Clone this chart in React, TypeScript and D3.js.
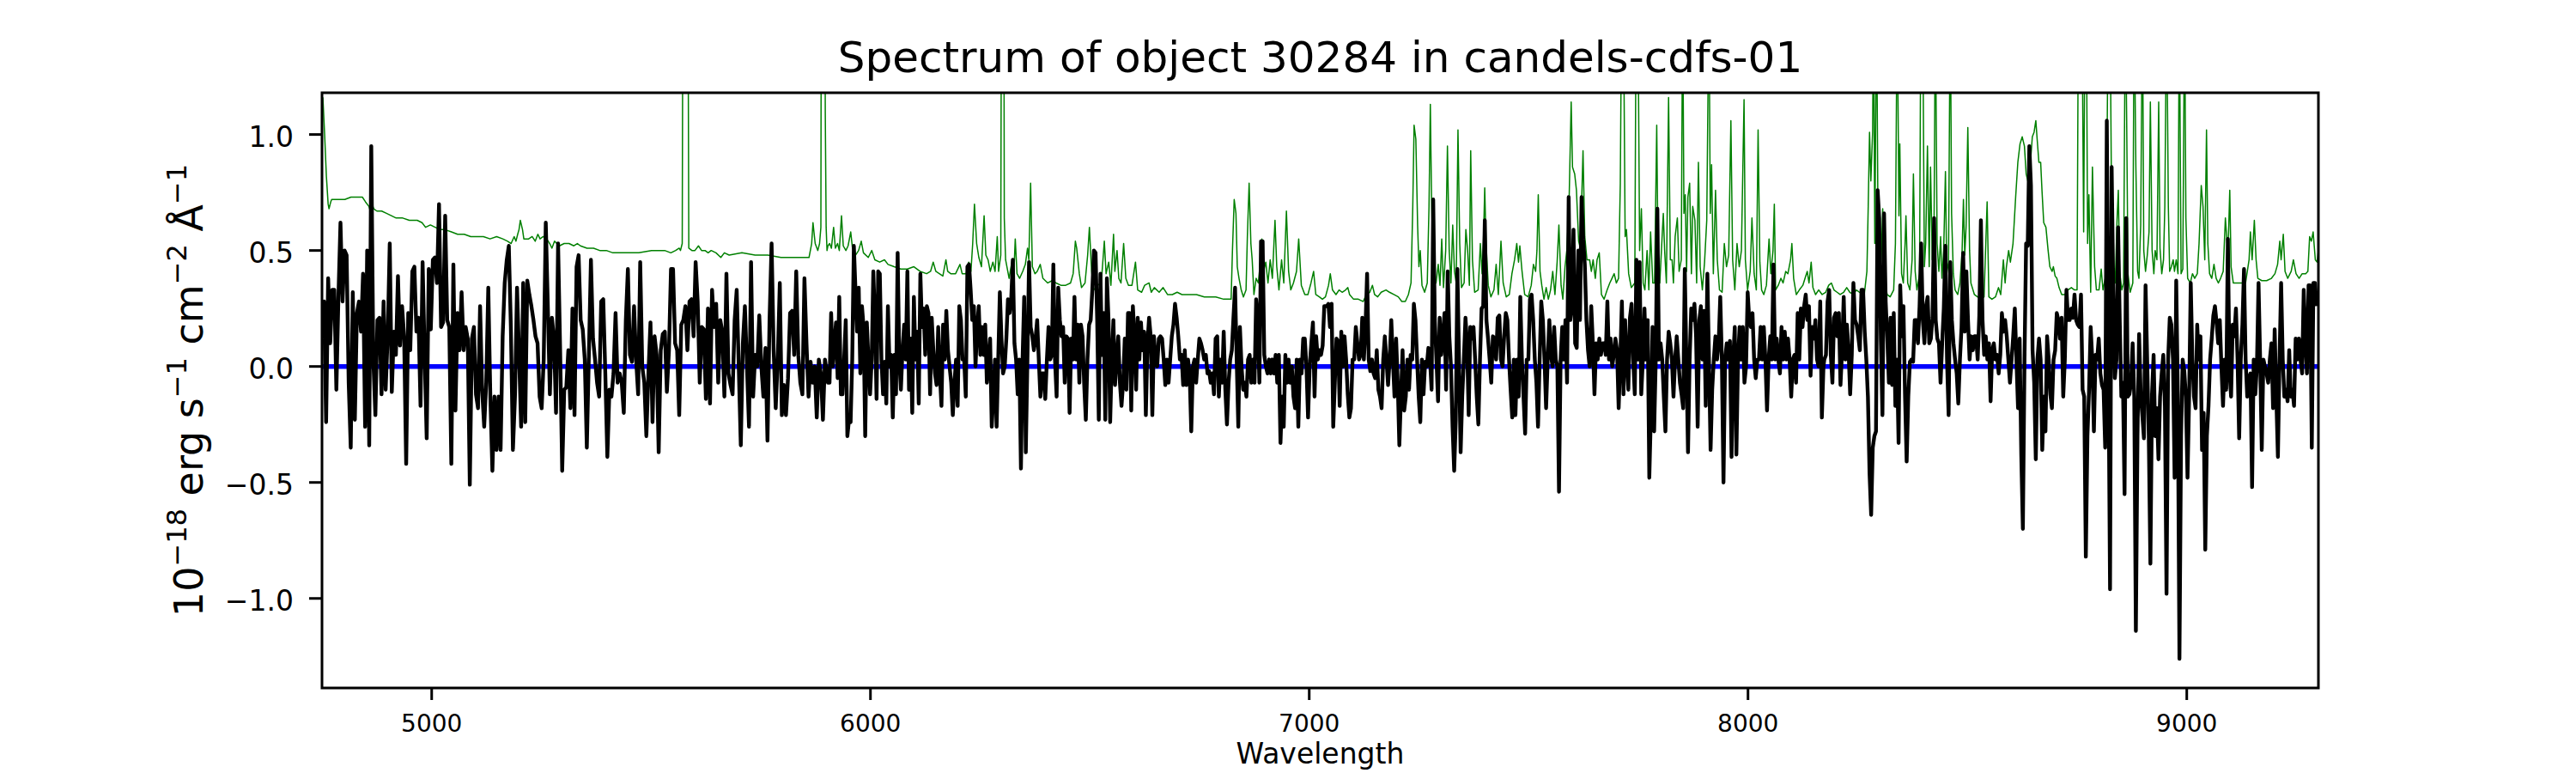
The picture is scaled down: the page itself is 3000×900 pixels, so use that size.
import * as d3 from 'd3'

// observed flux (black), read in four stretches; values are evenly spaced inside each stretch
const fluxA = [
  0.12, 0.28, -0.24, 0.38, 0.10, 0.33, 0.33, -0.10, 0.30, 0.62,
  0.28, 0.50, 0.48, -0.07, -0.35, 0.32, -0.23, 0.23, 0.28, 0.15,
  0.40, -0.26, 0.50, -0.34, 0.95, 0.03, -0.21, 0.20, 0.21, -0.12,
  0.28, -0.10, 0.13, 0.53, -0.11, 0.15, 0.05, 0.39, 0.09, 0.26,
  0.13, -0.42, 0.23, 0.07, 0.41, 0.43, 0.15, 0.21, -0.17, 0.45,
  0.05, -0.31, 0.42, 0.16, 0.46, 0.47, 0.36, 0.70, 0.17, 0.19,
  0.65, 0.20, 0.17, -0.42, 0.44, -0.19, 0.23, 0.07, 0.32, 0.07,
  0.17, 0.12, -0.51, 0.12, 0.17, -0.12, -0.18, 0.26, -0.10, -0.26,
  -0.07, 0.34, -0.13, -0.45, -0.13, -0.36, -0.13, -0.36, 0.13, 0.36,
  0.46, 0.52, 0.17, -0.36, -0.13, 0.34, 0.05, -0.26, 0.36, -0.24,
  0.37, 0.31, 0.26, 0.20, 0.13, 0.10, -0.13, -0.18, 0.03, 0.62,
  0.26, -0.12, 0.21, 0.12, -0.20, 0.53, 0.07, -0.45, -0.10, -0.09,
  0.07, -0.18, 0.25, -0.21, 0.43, 0.48, 0.20, 0.16, 0.03, -0.35,
  0.05, 0.46, 0.12, 0.03, -0.07, -0.13, 0.28, 0.29, -0.03, -0.39,
  -0.10, -0.13, -0.03, 0.23, -0.07, -0.03, -0.07, -0.20, 0.20, 0.42,
  0.05, 0.02, 0.26, 0.03, -0.12, 0.45, 0.00, -0.07, -0.30, -0.03,
  0.19, -0.24, 0.13, 0.05, -0.37, 0.07, 0.14, 0.15, -0.11, 0.07,
  0.42, 0.42, 0.10, 0.07, -0.21, 0.18, 0.20, 0.26, 0.07, 0.28,
  0.29, 0.13, 0.45, 0.28, -0.07, 0.17, 0.16, -0.14, 0.25, -0.16,
  0.33, 0.17, 0.27, -0.07, 0.20, 0.15, -0.13, 0.40, -0.03, -0.08,
  -0.12, 0.20, 0.33, 0.00, -0.34, 0.10, 0.26, 0.00, -0.26, 0.45,
  -0.13, 0.05, 0.00, 0.22, 0.00, -0.13, 0.08, -0.32, 0.20, 0.53,
  0.07, -0.18, 0.03, 0.36, -0.21, -0.08, -0.21, -0.05, 0.23, 0.24,
  0.05, 0.41, 0.05, -0.07, -0.12, 0.38, 0.10, -0.13, 0.02, -0.07,
  0.00, -0.22, 0.03, -0.03, -0.23, 0.03, -0.03,
]

const fluxB = [
  -0.07, -0.07, 0.23, 0.00, 0.10, 0.19, -0.05, 0.30, -0.12, -0.12,
  0.03, 0.20, -0.30, -0.23, -0.24, 0.03, 0.52, 0.33, 0.15, 0.34,
  -0.03, 0.26, 0.17, -0.30, 0.19, 0.03, -0.12, 0.03, 0.41, 0.20,
  -0.14, 0.41, 0.40, 0.03, -0.12, 0.02, -0.16, 0.26, 0.00, 0.05,
  -0.22, 0.05, -0.12, 0.49, 0.03, -0.10, 0.07, 0.18, 0.03, 0.41,
  -0.10, 0.12, -0.20, 0.30, 0.03, 0.15, -0.16, 0.40, 0.17, 0.25,
  0.05, 0.26, 0.23, -0.12, 0.21, 0.07, -0.03, -0.08, 0.17, -0.03,
  -0.17, 0.18, 0.03, 0.24, 0.07, 0.00, -0.07, -0.21, -0.07, 0.03,
  -0.17, 0.26, 0.20, 0.03, 0.03, -0.13, 0.43, 0.44, 0.33, 0.20,
  0.26, 0.00, 0.17, 0.26, 0.05, 0.17, 0.05, 0.18, -0.07, 0.03,
  0.12, -0.26, -0.13, 0.03, -0.26, 0.03, 0.32, 0.12, -0.03, 0.00,
  0.12, 0.29, 0.23, 0.29, 0.46, 0.10, 0.03, -0.12, 0.03, -0.44,
  0.03, 0.30, -0.37, 0.03, 0.45, 0.17, 0.13, 0.07, 0.12, 0.20,
  0.03, -0.13, -0.03, -0.03, -0.14, 0.03, 0.17, 0.03, 0.05, 0.44,
  0.03, -0.13, 0.34, 0.20, 0.13, 0.17, -0.07, 0.13, 0.12, -0.20,
  0.12, 0.03, 0.30, 0.03, 0.18, -0.07, 0.18, 0.13, -0.08, -0.23,
  0.03, 0.18, 0.20, 0.33, 0.50, 0.49, 0.20, -0.23, 0.40, 0.05,
  0.23, -0.23, 0.38, 0.20, -0.24, 0.03, 0.20, -0.08, 0.03, 0.13,
  -0.07, -0.17, -0.07, 0.12, -0.10, 0.23, 0.23, -0.19, 0.26, 0.13,
  -0.10, 0.21, 0.03, 0.19, 0.07, 0.15, -0.21, 0.10, 0.21, 0.13,
  -0.21, 0.13, 0.03, 0.00, 0.12, 0.13, 0.12, 0.03, -0.08, 0.03,
  -0.07, 0.03, 0.13, 0.18, 0.27, 0.21, 0.13, 0.03, 0.05, -0.08,
  0.07, -0.08, 0.03, -0.03, -0.28, 0.00, 0.03, -0.07, 0.03, 0.12,
  0.10, 0.07, 0.03, 0.05, -0.03, -0.02, -0.07, -0.03, -0.12, 0.12,
  0.13, -0.13, 0.03, -0.07, 0.15, -0.10, -0.25, -0.07, 0.03, 0.07,
  0.21, 0.34, 0.03, -0.26, 0.17, 0.00, -0.10, -0.07, -0.13, 0.03,
  0.05, -0.07, 0.03, -0.07, 0.29, 0.20, -0.07, 0.54, 0.54, 0.05,
  0.00, -0.03, 0.03, -0.03, 0.03, -0.03, 0.05, -0.07, 0.05, -0.33,
  -0.13, -0.26, 0.05, -0.07, 0.03, -0.07, 0.00, -0.13, -0.18, 0.03,
  -0.26, 0.03, -0.03, 0.12, 0.12, 0.00, -0.22, 0.00, 0.10, 0.19,
  -0.13, 0.13, 0.03, 0.07, 0.05, 0.09, 0.26, 0.26,
]

const fluxC = [
  0.26, 0.27, 0.17, 0.27, -0.26, -0.07, 0.12, 0.11, -0.17, 0.15,
  0.00, 0.13, 0.03, -0.12, -0.22, -0.18, 0.03, 0.03, 0.17, 0.10,
  0.03, 0.05, 0.21, 0.03, 0.17, 0.40, 0.03, -0.02, 0.03, -0.03,
  -0.05, 0.07, -0.10, -0.13, -0.18, 0.03, 0.13, 0.03, -0.08, 0.03,
  0.20, 0.03, -0.13, 0.12, -0.07, -0.34, -0.13, 0.07, -0.19, -0.13,
  0.03, -0.10, 0.05, 0.03, 0.27, 0.20, 0.03, -0.13, -0.24, 0.03,
  -0.12, 0.02, 0.00, 0.08, 0.03, -0.10, 0.72, 0.20, 0.03, -0.15,
  0.21, 0.05, 0.13, 0.23, -0.10, 0.41, 0.13, 0.00, -0.26, -0.45,
  -0.23, 0.42, 0.03, -0.37, -0.13, 0.03, 0.21, 0.10, -0.21, 0.17,
  0.12, 0.17, 0.03, -0.13, -0.25, 0.03, 0.25, 0.26, 0.63, 0.20,
  0.12, 0.03, -0.07, 0.13, 0.12, 0.03, 0.21, 0.22, 0.03, 0.00,
  0.13, 0.23, 0.20, 0.03, -0.10, -0.22, 0.03, -0.21, 0.03, -0.13,
  0.30, 0.03, -0.13, -0.29, 0.03, 0.03, 0.29, 0.31, 0.20, 0.03,
  -0.07, -0.26, 0.03, 0.28, 0.20, 0.03, -0.18, 0.03, 0.20, 0.05,
  0.00, 0.17, 0.03, 0.00, -0.54, 0.03, 0.17, 0.03, 0.20, -0.07,
  0.73, 0.20, 0.26, 0.59, 0.10, 0.08, 0.50, 0.20, 0.73, 0.55,
  0.44, 0.20, 0.07, 0.00, 0.26, 0.10, -0.12, 0.10, 0.03, 0.12,
  0.05, 0.10, 0.10, 0.05, 0.28, 0.03, 0.12, 0.00, 0.05, 0.12,
  0.07, -0.18, 0.03, 0.28, -0.12, 0.20, 0.03, -0.10, 0.21, 0.27,
  0.03, -0.12, 0.46, 0.03, 0.45, -0.12, 0.03, 0.25, 0.03, 0.20,
  -0.48, -0.20, 0.17, -0.28, 0.03, 0.68, 0.03, 0.10, 0.03, -0.13,
  -0.28, 0.03, 0.15, 0.10, 0.03, -0.13, 0.03, 0.13, 0.03, -0.07,
  -0.12, -0.18, 0.42, 0.03, -0.37, 0.03, 0.25, 0.20, 0.27, 0.13,
  -0.26, 0.20, 0.26, 0.03, 0.24, -0.17, 0.40, 0.03, -0.36, -0.10,
  0.03, 0.13, 0.03, 0.10, 0.30, 0.03, -0.50, 0.03, 0.10, 0.03,
  0.11, -0.39, 0.03, 0.17, -0.38, 0.03, 0.17, 0.03, 0.17, -0.07,
  0.00, 0.32, 0.20, 0.17, 0.23, 0.03, -0.05, 0.03, 0.03, 0.17,
  0.03, 0.17, 0.03, -0.19, 0.03, 0.13, 0.03, 0.44, 0.03, 0.12,
  0.03, -0.03, 0.17, 0.03, 0.15, 0.03, 0.12, 0.03, -0.13, 0.03,
  0.05, -0.07, 0.23, 0.03, 0.25, 0.17, 0.26, 0.31, 0.20, 0.26,
  -0.04, 0.17, 0.12, 0.20, 0.03, 0.00, 0.28, -0.22, 0.00,
]

const fluxD = [
  0.03, 0.05, 0.28, 0.33, 0.05, -0.07, 0.21, 0.23, 0.13, 0.23,
  -0.08, 0.07, 0.30, 0.03, 0.18, 0.07, -0.12, 0.05, 0.36, 0.20,
  0.18, 0.13, 0.07, 0.33, 0.33, 0.15, 0.03, -0.13, -0.46, -0.64,
  -0.35, -0.30, -0.28, 0.76, 0.64, 0.12, -0.21, 0.66, 0.28, 0.12,
  -0.07, 0.21, -0.08, 0.23, -0.17, 0.03, -0.33, 0.35, 0.13, 0.26,
  -0.13, -0.41, -0.13, 0.02, 0.03, 0.02, 0.20, 0.20, 0.10, 0.26,
  0.53, 0.20, 0.10, 0.26, 0.30, 0.10, 0.12, 0.21, 0.64, 0.20,
  0.12, 0.10, -0.07, 0.10, 0.25, 0.52, 0.03, -0.21, 0.45, 0.20,
  0.10, 0.03, -0.03, -0.16, 0.03, 0.17, 0.49, 0.15, 0.41, 0.20,
  0.03, 0.13, 0.07, 0.13, 0.13, 0.03, 0.22, 0.63, 0.20, 0.05,
  0.13, 0.03, 0.10, -0.15, 0.07, 0.10, 0.03, 0.05, -0.03, 0.05,
  0.23, 0.15, 0.20, 0.13, 0.03, -0.07, 0.03, 0.13, 0.25, 0.03,
  -0.18, 0.12, -0.38, -0.70, 0.03, 0.53, 0.52, 0.95, 0.78, 0.07,
  -0.07, -0.40, 0.03, 0.12, 0.03, -0.36, -0.13, -0.28, 0.13, 0.03,
  -0.12, -0.18, 0.03, 0.07, 0.23, 0.20, 0.12, 0.21, -0.13, 0.03,
  0.33, 0.20, 0.20, 0.25, 0.21, 0.31, 0.20, 0.18, 0.17, 0.31,
  -0.10, -0.13, -0.82, -0.30, -0.10, 0.17, 0.03, -0.28, 0.05, 0.03,
  0.12, -0.03, -0.08, -0.10, -0.35, 1.06, 0.03, -0.96, 0.86, 0.33,
  -0.05, 0.03, 0.60, 0.20, -0.13, -0.07, -0.55, 0.64, -0.13, -0.12,
  -0.07, 0.10, -0.13, -1.14, -0.30, 0.14, -0.12, -0.21, -0.31, 0.35,
  0.03, -0.30, -0.85, -0.12, 0.05, -0.30, -0.18, -0.40, -0.13, -0.03,
  0.05, -0.17, -0.98, 0.03, 0.21, 0.18, 0.03, -0.48, 0.37, -0.12,
  -1.26, -0.30, 0.03, -0.02, -0.13, -0.48, -0.13, 0.36, 0.03, -0.13,
  -0.18, 0.18, 0.03, 0.13, -0.36, -0.20, -0.79, -0.30, -0.17, 0.03,
  0.12, 0.22, 0.26, 0.19, 0.10, 0.20, 0.00, -0.17, 0.03, -0.10,
  0.55, -0.02, -0.13, 0.18, 0.13, 0.25, 0.03, -0.31, 0.03, 0.18,
  0.42, 0.03, -0.13, -0.05, -0.03, -0.52, 0.03, -0.12, 0.00, 0.36,
  0.03, -0.36, 0.03, 0.00, -0.03, -0.07, 0.03, 0.10, -0.18, 0.16,
  -0.13, -0.39, 0.03, 0.36, 0.03, -0.13, -0.10, -0.15, 0.07, -0.13,
  -0.10, -0.17, 0.12, 0.03, 0.12, 0.03, -0.03, 0.33, 0.13, -0.03,
  0.35, 0.35, -0.35, 0.36, 0.36, 0.26,
]

// wavelength span covered by each stretch
const stretches: { from: number; to: number; flux: number[] }[] = [
  { from: 4750, to: 5901, flux: fluxA },
  { from: 5903, to: 7038, flux: fluxB },
  { from: 7040, to: 8172, flux: fluxC },
  { from: 8174, to: 9296, flux: fluxD },
]

// sky / noise spectrum (green) as [wavelength, flux]; values above the frame are clipped
const skyPoints: [number, number][] = [
  [4752, 1.16], [4756, 1.0], [4760, 0.82], [4764, 0.70], [4766, 0.68], [4770, 0.71], [4772, 0.72], [4787, 0.72],
  [4802, 0.72], [4816, 0.73], [4831, 0.73], [4842, 0.73], [4849, 0.71], [4857, 0.69], [4860, 0.67], [4864, 0.70],
  [4868, 0.68], [4875, 0.67], [4886, 0.67], [4897, 0.66], [4908, 0.65], [4919, 0.64], [4934, 0.64], [4949, 0.63],
  [4960, 0.63], [4967, 0.63], [4978, 0.62], [4986, 0.60], [4997, 0.61], [5008, 0.60], [5019, 0.59], [5030, 0.59],
  [5045, 0.58], [5059, 0.57], [5074, 0.57], [5089, 0.56], [5103, 0.56], [5118, 0.56], [5133, 0.55], [5148, 0.56],
  [5162, 0.55], [5173, 0.54], [5181, 0.53], [5188, 0.56], [5192, 0.54], [5196, 0.57], [5199, 0.59], [5202, 0.63],
  [5207, 0.59], [5210, 0.55], [5221, 0.55], [5229, 0.56], [5236, 0.54], [5242, 0.57], [5247, 0.55], [5254, 0.56],
  [5262, 0.55], [5269, 0.53], [5274, 0.51], [5280, 0.54], [5291, 0.52], [5302, 0.53], [5313, 0.53], [5324, 0.52],
  [5332, 0.53], [5339, 0.52], [5354, 0.51], [5369, 0.51], [5383, 0.50], [5398, 0.50], [5413, 0.49], [5442, 0.49],
  [5472, 0.49], [5501, 0.50], [5531, 0.50], [5545, 0.49], [5556, 0.50], [5564, 0.51], [5567, 0.50], [5571, 0.53],
  [5574, 3], [5582, 3], [5586, 0.51], [5593, 0.50], [5600, 0.50], [5608, 0.52], [5615, 0.50], [5623, 0.50],
  [5630, 0.49], [5637, 0.50], [5648, 0.49], [5659, 0.47], [5667, 0.49], [5678, 0.48], [5707, 0.49], [5737, 0.48],
  [5766, 0.48], [5796, 0.47], [5825, 0.47], [5855, 0.47], [5860, 0.47], [5866, 0.53], [5869, 0.62], [5874, 0.53],
  [5880, 0.50], [5884, 0.53], [5887, 0.6], [5889, 3], [5894, 3], [5897, 1.1], [5899, 0.6], [5901, 0.5],
  [5903, 0.52], [5907, 0.53], [5911, 0.51], [5916, 0.60], [5920, 0.51], [5925, 0.53], [5929, 0.50], [5934, 0.65],
  [5938, 0.52], [5944, 0.50], [5949, 0.52], [5955, 0.58], [5959, 0.51], [5966, 0.48], [5973, 0.50], [5979, 0.54],
  [5984, 0.49], [5995, 0.47], [6003, 0.50], [6010, 0.46], [6021, 0.45], [6032, 0.46], [6040, 0.44], [6054, 0.43],
  [6069, 0.42], [6084, 0.42], [6099, 0.43], [6113, 0.41], [6128, 0.40], [6137, 0.41], [6143, 0.45], [6149, 0.41],
  [6157, 0.40], [6165, 0.39], [6172, 0.46], [6176, 0.41], [6183, 0.40], [6194, 0.40], [6204, 0.44], [6209, 0.40],
  [6218, 0.40], [6224, 0.45], [6229, 0.41], [6233, 0.53], [6237, 0.70], [6242, 0.53], [6247, 0.47], [6253, 0.43],
  [6259, 0.65], [6263, 0.48], [6268, 0.46], [6273, 0.41], [6279, 0.45], [6284, 0.41], [6289, 0.56], [6292, 0.41],
  [6297, 0.48], [6300, 3], [6303, 3], [6305, 0.64], [6308, 0.46], [6316, 0.38], [6323, 0.46], [6327, 0.41],
  [6330, 0.55], [6334, 0.40], [6340, 0.38], [6347, 0.41], [6353, 0.44], [6358, 0.51], [6361, 0.46], [6365, 0.79],
  [6369, 0.43], [6375, 0.40], [6380, 0.41], [6387, 0.44], [6393, 0.38], [6404, 0.36], [6414, 0.37], [6423, 0.36],
  [6434, 0.35], [6445, 0.35], [6456, 0.36], [6462, 0.40], [6467, 0.54], [6470, 0.51], [6476, 0.40], [6481, 0.34],
  [6489, 0.36], [6495, 0.48], [6499, 0.60], [6504, 0.41], [6509, 0.33], [6518, 0.35], [6526, 0.36], [6533, 0.54],
  [6537, 0.40], [6543, 0.45], [6548, 0.35], [6554, 0.57], [6557, 0.41], [6562, 0.50], [6566, 0.38], [6571, 0.36],
  [6577, 0.53], [6582, 0.38], [6588, 0.35], [6596, 0.35], [6604, 0.45], [6609, 0.33], [6618, 0.32], [6625, 0.35],
  [6635, 0.36], [6640, 0.32], [6647, 0.34], [6658, 0.32], [6667, 0.34], [6677, 0.31], [6688, 0.31], [6699, 0.32],
  [6710, 0.31], [6724, 0.31], [6743, 0.31], [6761, 0.30], [6787, 0.30], [6805, 0.29], [6822, 0.29], [6825, 0.50],
  [6829, 0.72], [6833, 0.66], [6836, 0.43], [6840, 0.38], [6845, 0.33], [6850, 0.30], [6856, 0.33], [6859, 0.56],
  [6863, 0.79], [6867, 0.53], [6870, 0.46], [6874, 0.31], [6879, 0.38], [6884, 0.36], [6889, 0.46], [6892, 0.55],
  [6896, 0.41], [6901, 0.45], [6906, 0.36], [6911, 0.46], [6916, 0.38], [6922, 0.63], [6926, 0.43], [6931, 0.33],
  [6937, 0.46], [6942, 0.36], [6948, 0.67], [6953, 0.41], [6958, 0.33], [6964, 0.36], [6971, 0.41], [6976, 0.55],
  [6982, 0.35], [6990, 0.31], [6997, 0.31], [7004, 0.36], [7010, 0.41], [7015, 0.31], [7023, 0.30], [7030, 0.29],
  [7037, 0.30], [7044, 0.35], [7048, 0.40], [7053, 0.33], [7061, 0.31], [7068, 0.33], [7075, 0.32], [7083, 0.33],
  [7088, 0.34], [7092, 0.31], [7101, 0.29], [7112, 0.29], [7123, 0.28], [7130, 0.31], [7138, 0.32], [7144, 0.35],
  [7149, 0.31], [7156, 0.30], [7164, 0.32], [7175, 0.33], [7183, 0.32], [7193, 0.31], [7203, 0.30], [7211, 0.28],
  [7219, 0.28], [7226, 0.31], [7232, 0.36], [7236, 0.69], [7239, 1.04], [7243, 0.98], [7247, 0.61], [7250, 0.43],
  [7253, 0.50], [7257, 0.35], [7263, 0.32], [7269, 0.36], [7273, 0.69], [7276, 1.13], [7279, 0.69], [7284, 0.36],
  [7289, 0.36], [7294, 0.44], [7298, 0.35], [7302, 0.55], [7306, 0.34], [7311, 0.50], [7315, 0.95], [7319, 0.50],
  [7323, 0.36], [7327, 0.61], [7331, 0.41], [7335, 0.36], [7339, 1.02], [7343, 0.53], [7347, 0.34], [7353, 0.36],
  [7357, 0.59], [7361, 0.50], [7365, 0.35], [7368, 0.93], [7372, 0.46], [7377, 0.32], [7385, 0.33], [7390, 0.53],
  [7394, 0.40], [7397, 0.54], [7400, 0.77], [7403, 0.53], [7408, 0.35], [7414, 0.30], [7421, 0.33], [7426, 0.44],
  [7431, 0.31], [7437, 0.54], [7442, 0.36], [7449, 0.30], [7456, 0.31], [7462, 0.40], [7468, 0.46], [7473, 0.53],
  [7477, 0.45], [7480, 0.52], [7485, 0.41], [7491, 0.31], [7499, 0.30], [7506, 0.35], [7511, 0.44], [7516, 0.41],
  [7519, 0.50], [7522, 0.74], [7526, 0.41], [7530, 0.35], [7535, 0.29], [7540, 0.34], [7545, 0.29], [7550, 0.33],
  [7555, 0.41], [7560, 0.31], [7565, 0.45], [7569, 0.61], [7574, 0.35], [7578, 0.29], [7583, 0.43], [7587, 0.50],
  [7592, 0.69], [7597, 1.14], [7600, 0.86], [7605, 0.83], [7609, 0.76], [7614, 0.54], [7618, 0.51], [7624, 0.93],
  [7628, 0.56], [7633, 0.46], [7639, 0.46], [7643, 0.41], [7647, 0.46], [7652, 0.38], [7656, 0.46], [7661, 0.49],
  [7666, 0.31], [7672, 0.29], [7679, 0.33], [7685, 0.36], [7690, 0.38], [7695, 0.40], [7700, 0.36], [7705, 0.38],
  [7709, 0.79], [7712, 1.6], [7716, 1.6], [7720, 0.56], [7723, 0.59], [7728, 0.40], [7734, 0.34], [7742, 0.36],
  [7745, 1.6], [7749, 1.6], [7753, 0.50], [7757, 0.68], [7761, 0.36], [7765, 0.33], [7770, 0.50], [7774, 0.33],
  [7778, 0.58], [7783, 0.36], [7787, 0.36], [7792, 1.04], [7795, 0.46], [7799, 0.36], [7804, 0.55], [7807, 0.66],
  [7810, 0.50], [7814, 0.36], [7819, 1.16], [7823, 0.46], [7827, 0.46], [7830, 0.36], [7834, 0.56], [7839, 0.64],
  [7843, 0.41], [7848, 0.46], [7851, 1.6], [7854, 0.66], [7857, 0.74], [7860, 0.41], [7863, 0.73], [7867, 0.79],
  [7871, 0.40], [7874, 0.69], [7879, 0.63], [7883, 0.36], [7887, 0.88], [7891, 0.43], [7896, 0.33], [7901, 0.45],
  [7906, 0.63], [7911, 1.6], [7914, 0.66], [7917, 0.87], [7921, 0.40], [7926, 0.76], [7930, 0.46], [7935, 0.33],
  [7941, 0.32], [7946, 0.53], [7951, 0.43], [7956, 0.48], [7961, 1.06], [7965, 0.46], [7970, 0.33], [7975, 0.53],
  [7980, 0.43], [7985, 0.50], [7991, 1.15], [7994, 0.46], [7999, 0.33], [8005, 0.41], [8009, 0.64], [8014, 0.40],
  [8019, 0.33], [8023, 1.02], [8027, 0.45], [8031, 0.33], [8036, 0.31], [8042, 0.35], [8048, 0.55], [8052, 0.40],
  [8057, 0.50], [8060, 0.70], [8063, 0.33], [8069, 0.35], [8075, 0.38], [8080, 0.36], [8086, 0.41], [8091, 0.40],
  [8097, 0.46], [8100, 0.53], [8104, 0.38], [8110, 0.31], [8117, 0.33], [8125, 0.35], [8130, 0.38], [8135, 0.41],
  [8139, 0.36], [8144, 0.45], [8148, 0.34], [8154, 0.31], [8161, 0.33], [8169, 0.31], [8177, 0.32], [8184, 0.35],
  [8190, 0.36], [8196, 0.33], [8203, 0.32], [8210, 0.31], [8218, 0.32], [8225, 0.34], [8232, 0.32], [8240, 0.31],
  [8247, 0.33], [8254, 0.32], [8265, 0.31], [8271, 0.41], [8274, 0.69], [8277, 1.01], [8280, 0.80], [8284, 1.01],
  [8286, 1.6], [8289, 0.53], [8293, 1.6], [8296, 0.69], [8301, 0.40], [8304, 0.48], [8307, 0.68], [8311, 0.38],
  [8317, 0.31], [8324, 0.30], [8332, 0.33], [8336, 0.53], [8340, 1.6], [8344, 0.65], [8346, 0.96], [8350, 0.40],
  [8354, 0.36], [8358, 0.53], [8360, 0.65], [8364, 0.36], [8369, 0.33], [8374, 0.46], [8377, 0.83], [8381, 0.41],
  [8385, 0.33], [8391, 0.40], [8394, 1.6], [8398, 1.6], [8402, 0.43], [8405, 0.53], [8409, 0.95], [8413, 0.43],
  [8416, 0.86], [8420, 0.46], [8424, 0.58], [8427, 1.6], [8431, 0.53], [8435, 0.41], [8439, 0.56], [8442, 0.38],
  [8446, 0.50], [8450, 0.84], [8453, 0.40], [8457, 0.45], [8461, 1.6], [8464, 0.66], [8468, 0.40], [8472, 0.33],
  [8478, 0.31], [8483, 0.36], [8488, 0.50], [8491, 0.72], [8494, 0.48], [8497, 0.60], [8501, 1.03], [8505, 0.50],
  [8508, 0.36], [8516, 0.31], [8523, 0.30], [8531, 0.29], [8538, 0.30], [8545, 0.71], [8549, 0.30], [8556, 0.29],
  [8564, 0.30], [8571, 0.34], [8576, 0.31], [8582, 0.46], [8586, 0.36], [8589, 0.43], [8594, 0.50], [8598, 0.45],
  [8604, 0.53], [8610, 0.73], [8615, 0.88], [8620, 0.96], [8625, 0.99], [8630, 0.95], [8634, 0.83], [8639, 0.79],
  [8643, 0.86], [8648, 0.99], [8652, 1.01], [8656, 1.06], [8659, 0.98], [8663, 0.88], [8667, 0.88], [8670, 0.76],
  [8674, 0.62], [8679, 0.60], [8684, 0.50], [8688, 0.43], [8693, 0.41], [8696, 0.43], [8700, 0.39], [8704, 0.38],
  [8709, 0.34], [8715, 0.31], [8722, 0.31], [8729, 0.33], [8737, 0.34], [8744, 0.33], [8750, 0.33], [8753, 1.6],
  [8758, 1.6], [8761, 1.6], [8765, 0.58], [8768, 1.6], [8771, 1.6], [8774, 0.53], [8777, 0.74], [8781, 0.32],
  [8785, 0.86], [8790, 0.43], [8794, 0.33], [8800, 0.33], [8805, 0.42], [8809, 0.33], [8814, 0.38], [8818, 0.86],
  [8821, 1.6], [8825, 1.6], [8829, 0.60], [8832, 0.41], [8837, 0.36], [8841, 0.63], [8844, 0.76], [8847, 0.41],
  [8852, 0.33], [8856, 0.36], [8860, 1.6], [8863, 1.07], [8866, 0.40], [8871, 0.32], [8877, 0.36], [8880, 1.6],
  [8884, 0.86], [8888, 0.41], [8891, 0.38], [8895, 0.61], [8899, 1.6], [8902, 0.50], [8906, 0.41], [8910, 0.48],
  [8914, 0.58], [8917, 1.14], [8921, 0.50], [8925, 0.40], [8928, 0.50], [8932, 0.46], [8936, 1.14], [8939, 0.51],
  [8943, 0.40], [8947, 0.46], [8950, 0.69], [8954, 1.6], [8958, 0.69], [8961, 0.41], [8965, 0.43], [8969, 0.46],
  [8972, 0.41], [8976, 0.46], [8980, 0.40], [8983, 1.6], [8987, 0.40], [8991, 0.42], [8995, 1.6], [8998, 0.64],
  [9002, 0.38], [9008, 0.36], [9013, 0.40], [9018, 0.38], [9024, 0.40], [9028, 0.53], [9033, 0.78], [9037, 0.69],
  [9041, 0.46], [9045, 1.02], [9048, 0.53], [9052, 0.40], [9057, 0.38], [9062, 0.44], [9067, 0.38], [9072, 0.36],
  [9077, 0.38], [9083, 0.41], [9088, 0.64], [9092, 0.53], [9095, 0.56], [9098, 0.76], [9101, 0.43], [9106, 0.36],
  [9116, 0.36], [9126, 0.36], [9134, 0.36], [9142, 0.46], [9145, 0.58], [9149, 0.46], [9154, 0.63], [9158, 0.46],
  [9162, 0.38], [9171, 0.37], [9182, 0.37], [9193, 0.38], [9201, 0.40], [9207, 0.44], [9212, 0.54], [9215, 0.46],
  [9220, 0.57], [9224, 0.41], [9230, 0.38], [9238, 0.41], [9243, 0.46], [9249, 0.40], [9256, 0.38], [9263, 0.40],
  [9271, 0.40], [9276, 0.41], [9280, 0.56], [9284, 0.54], [9288, 0.58], [9293, 0.46], [9297, 0.45], [9300, 0.50],
]

const waveDomain: [number, number] = [4750, 9300]
const fluxDomain: [number, number] = [-1.386, 1.18]
const xTicks = [5000, 6000, 7000, 8000, 9000]
const yTicks = [-1.0, -0.5, 0.0, 0.5, 1.0]
const zeroLevel: [number, number][] = [[4750, 0], [9300, 0]]

const W = 3000
const H = 900
const plot = { left: 375, right: 2700, top: 108, bottom: 801 }
const FONT = 'DejaVu Sans, Liberation Sans, sans-serif'

const fmtY = (v: number) => d3.format('.1f')(v).replace('-', '\u2212')

export default function App() {
  const x = d3.scaleLinear().domain(waveDomain).range([plot.left, plot.right])
  const y = d3.scaleLinear().domain(fluxDomain).range([plot.bottom, plot.top])
  const line = d3.line<[number, number]>().x((d) => x(d[0])).y((d) => y(d[1]))

  const observed: [number, number][] = stretches.flatMap((s) =>
    s.flux.map((f, i) => [s.from + ((s.to - s.from) * i) / (s.flux.length - 1), f] as [number, number]),
  )

  const midX = (plot.left + plot.right) / 2
  const midY = (plot.top + plot.bottom) / 2
  const sup = { fontSize: 32, dy: -19 }

  return (
    <>
      <style>{'body{margin:0}'}</style>
      <svg width={W} height={H} viewBox={`0 0 ${W} ${H}`} style={{ display: 'block', background: '#fff' }} fontFamily={FONT}>
        <defs>
          <clipPath id="plot-area">
            <rect x={plot.left} y={plot.top} width={plot.right - plot.left} height={plot.bottom - plot.top} />
          </clipPath>
        </defs>

        <g clipPath="url(#plot-area)" fill="none" strokeLinejoin="round">
          <path d={line(zeroLevel) ?? ''} stroke="#0000ff" strokeWidth={5.5} />
          <path d={line(skyPoints) ?? ''} stroke="#008000" strokeWidth={1.5} />
          <path d={line(observed) ?? ''} stroke="#000000" strokeWidth={4.4} />
        </g>

        <rect
          x={plot.left}
          y={plot.top}
          width={plot.right - plot.left}
          height={plot.bottom - plot.top}
          fill="none"
          stroke="#000"
          strokeWidth={3}
        />

        {xTicks.map((t) => (
          <g key={`x${t}`}>
            <line x1={x(t)} x2={x(t)} y1={plot.bottom} y2={plot.bottom + 14} stroke="#000" strokeWidth={3} />
            <text x={x(t)} y={852} textAnchor="middle" fontSize={28}>
              {t}
            </text>
          </g>
        ))}

        {yTicks.map((t) => (
          <g key={`y${t}`}>
            <line x1={plot.left - 15} x2={plot.left} y1={y(t)} y2={y(t)} stroke="#000" strokeWidth={3} />
            <text x={342} y={y(t) + 14} textAnchor="end" fontSize={33}>
              {fmtY(t)}
            </text>
          </g>
        ))}

        <text x={midX} y={84} textAnchor="middle" fontSize={50}>
          Spectrum of object 30284 in candels-cdfs-01
        </text>

        <text x={midX} y={889} textAnchor="middle" fontSize={33}>
          Wavelength
        </text>

        <text transform={`translate(236,${midY}) rotate(-90)`} textAnchor="middle" fontSize={46}>
          <tspan>10</tspan>
          <tspan fontSize={sup.fontSize} dy={sup.dy}>{'\u221218'}</tspan>
          <tspan dy={-sup.dy}>{' erg s'}</tspan>
          <tspan fontSize={sup.fontSize} dy={sup.dy}>{'\u22121'}</tspan>
          <tspan dy={-sup.dy}>{' cm'}</tspan>
          <tspan fontSize={sup.fontSize} dy={sup.dy}>{'\u22122'}</tspan>
          <tspan dy={-sup.dy}>{' \u00c5'}</tspan>
          <tspan fontSize={sup.fontSize} dy={sup.dy}>{'\u22121'}</tspan>
        </text>
      </svg>
    </>
  )
}
